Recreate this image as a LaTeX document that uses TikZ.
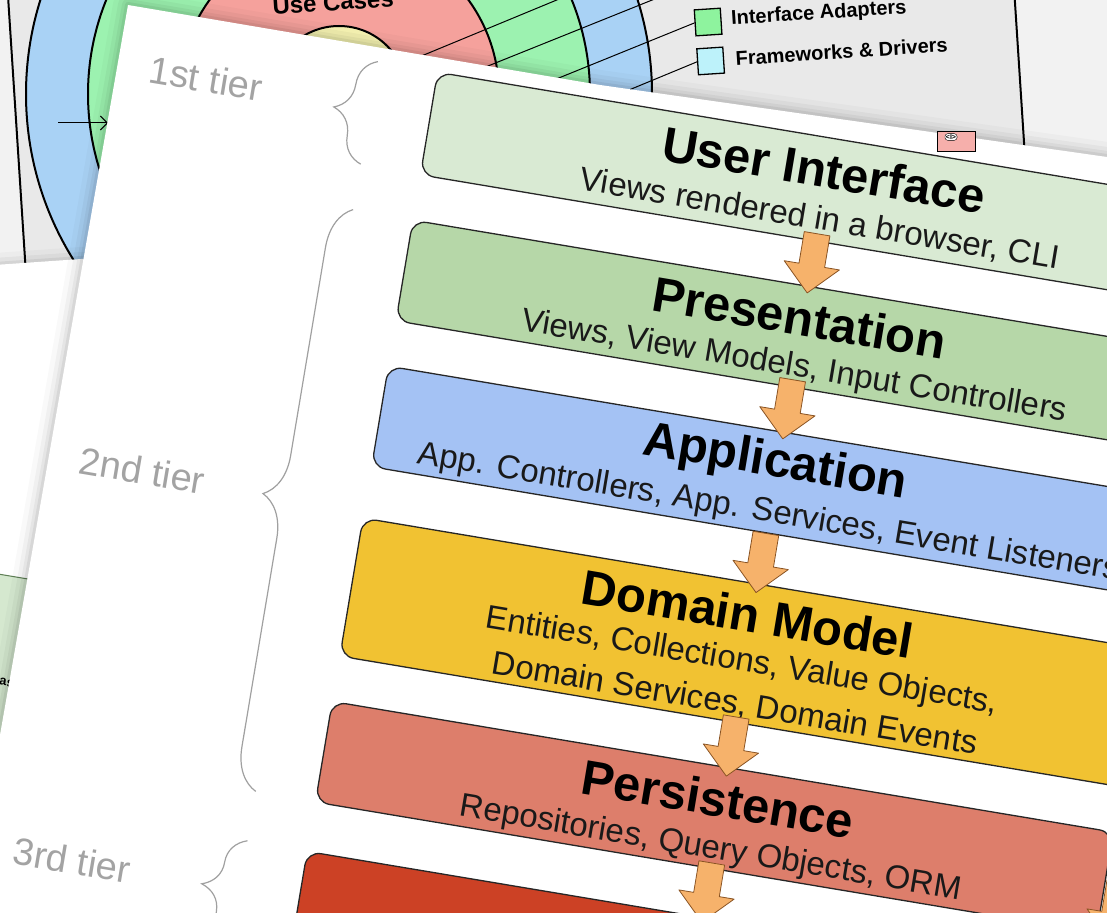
\documentclass[tikz,border=0pt]{standalone}
\usepackage{fontspec}
\setmainfont{Liberation Sans}
\usetikzlibrary{decorations.pathreplacing,arrows.meta,calc}

\definecolor{backgray}{HTML}{F2F2F2}
\definecolor{framegray}{HTML}{E9E9E9}
\definecolor{ringblue}{HTML}{A9D2F5}
\definecolor{ringgreen}{HTML}{9CF2B0}
\definecolor{ringred}{HTML}{F5A19C}
\definecolor{ringyellow}{HTML}{F8F5B4}
\definecolor{sqgreen}{HTML}{8EF39E}
\definecolor{sqcyan}{HTML}{BDF2FA}
\definecolor{uicol}{HTML}{D9EAD3}
\definecolor{prescol}{HTML}{B6D7A8}
\definecolor{appcol}{HTML}{A4C2F4}
\definecolor{domcol}{HTML}{F1C232}
\definecolor{perscol}{HTML}{DD7E6B}
\definecolor{infcol}{HTML}{CC4125}
\definecolor{arrfill}{HTML}{F6B26B}
\definecolor{arrline}{HTML}{8A5424}
\definecolor{tiergray}{HTML}{A3A3A3}
\definecolor{bracegray}{HTML}{A0A0A0}
\definecolor{oldgreen}{HTML}{D5E8CF}
\definecolor{oldgreenline}{HTML}{5E7F55}

\newcommand\layerarrow[1]{%
  \draw[blockarr] (#1) ++(-13,0) -- ++(0,32) -- ++(-15,0) -- ++(28,28)
    -- ++(28,-28) -- ++(-15,0) -- ++(0,-32) -- cycle;}

\begin{document}
\begin{tikzpicture}[x=1pt,y=-1pt,
  layer/.style={draw=black!85, line width=1.3pt, rounded corners=14pt,
    minimum width=792pt, anchor=north west, inner sep=0pt},
  ttl/.style={font=\fontsize{49}{55}\selectfont\bfseries, inner sep=0pt},
  sub/.style={font=\fontsize{33}{44}\selectfont, text=black!90, inner sep=0pt, align=center},
  tier/.style={font=\fontsize{38}{44}\selectfont, text=tiergray, inner sep=0pt},
  tierbrace/.style={decorate, decoration={brace, amplitude=#1}, draw=bracegray, line width=1.2pt},
  blockarr/.style={fill=arrfill, draw=arrline, line width=0.8pt, line join=round},
  ring/.style={draw=black, line width=2pt},
  legendsq/.style={draw=black, line width=1.3pt, minimum size=26pt, inner sep=0pt},
  legendtxt/.style={font=\fontsize{20}{24}\selectfont\bfseries, anchor=west, inner sep=0pt},
  pointer/.style={draw=black, line width=1pt},
  sheetshadow/.style={draw=black, line join=round},
]
\useasboundingbox (0,0) rectangle (1107,912);
\clip (0,0) rectangle (1107,912);

% ---------- back page: the concentric rings diagram ----------
\fill[backgray] (-10,-10) rectangle (1120,930);
\begin{scope}[shift={(339,94)}, rotate=3.7]
  \filldraw[fill=framegray, draw=black, line width=2pt] (-324,-400) rectangle (680.5,520);
\end{scope}
\draw[ring, fill=ringblue]   (339,94) circle[radius=313pt];
\draw[ring, fill=ringgreen]  (339,94) circle[radius=251pt];
\draw[ring, fill=ringred]    (339,94) circle[radius=160pt];
\draw[ring, fill=ringyellow] (339,94) circle[radius=68pt];
\draw[pointer, -{Straight Barb[length=7pt]}] (58,123) -- (108,123);

\begin{scope}[shift={(339,94)}, rotate=3.7, transform shape]
  \node[font=\fontsize{24}{28}\selectfont\bfseries, inner sep=0pt] (uc) at (0,-92) {Use Cases};
  \node[legendsq, fill=ringyellow] (sqent) at (373,-126) {};
  \node[legendsq, fill=ringred]    (sqapp) at (373,-87) {};
  \node[legendsq, fill=sqgreen]    (sqia)  at (373,-48) {};
  \node[legendsq, fill=sqcyan]     (sqfd)  at (373,-9) {};
  \node[legendtxt] (txtia) at (396,-49) {Interface Adapters};
  \node[legendtxt] (txtfd) at (398,-10) {Frameworks \& Drivers};
  \coordinate (endent) at (30,-14);
  \coordinate (endapp) at (110,-5);
  \coordinate (endia)  at (200,5);
  \coordinate (endfd)  at (280,18);
  \draw[pointer] (sqent.west) -- (endent);
  \draw[pointer] (sqapp.west) -- (endapp);
  \draw[pointer] (sqia.west)  -- (endia);
  \draw[pointer] (sqfd.west)  -- (endfd);
\end{scope}

% ---------- middle page on the left ----------
\foreach \w/\o in {24/0.025,14/0.04,6/0.06}{
  \draw[sheetshadow, line width=\w pt, opacity=\o] (-20,266) -- (240,248) -- (240,1000) -- (-20,1000) -- cycle;
}
\fill[white] (-20,266) -- (240,248) -- (240,1000) -- (-20,1000) -- cycle;
\filldraw[fill=oldgreen, draw=oldgreenline, line width=1pt]
  (-20,571) -- (160,601) -- (160,1000) -- (-20,1000) -- cycle;
\node[font=\fontsize{13}{15}\selectfont\bfseries, anchor=east, rotate=-9.5, inner sep=0pt] (oldtxt) at (14,684) {as};

% ---------- front page: the layer stack ----------
\foreach \w/\o in {30/0.025,20/0.035,12/0.045,6/0.06}{
  \draw[sheetshadow, line width=\w pt, opacity=\o]
    (128,5) -- (600,85) -- (1107,157) -- (1400,200) -- (1400,1100) -- (-64,1100) -- cycle;
}
\fill[white] (128,5) -- (600,85) -- (1107,157) -- (1400,200) -- (1400,1100) -- (-64,1100) -- cycle;

% small interface marker of the back page
\filldraw[fill=ringred!85, draw=black, line width=1pt] (937,132) rectangle (975,152);
\node[draw=black, fill=white, rounded corners=3pt, inner sep=1pt,
      font=\fontsize{7}{7}\selectfont\bfseries] (imark) at (951,137) {<I>};

\begin{scope}[shift={(440,72)}, rotate=-9.5, transform shape]
  % layers
  \node[layer, fill=uicol,   minimum height=104pt] (ui) at (-3,0)   {};
  \node[layer, fill=prescol, minimum height=102pt] (pr) at (-3,150) {};
  \node[layer, fill=appcol,  minimum height=102pt] (ap) at (-3,298) {};
  \node[layer, fill=domcol,  minimum height=140pt] (dm) at (-3,452) {};
  \node[layer, fill=perscol, minimum height=102pt] (ps) at (-3,638) {};
  \node[layer, fill=infcol,  minimum height=110pt] (inf) at (-3,790) {};

  % titles and contents
  \node[ttl] (uit) at (395,33)  {User Interface};
  \node[sub] (uis) at (399,83)  {Views rendered in a browser, CLI};
  \node[ttl] (prt) at (395,183) {Presentation};
  \node[sub] (prs) at (398,233) {Views, View Models, Input Controllers};
  \node[ttl] (apt) at (395,331) {Application};
  \node[sub] (aps) at (397,381) {App. Controllers, App. Services, Event Listeners};
  \node[ttl] (dmt) at (393,484) {Domain Model};
  \node[sub] (dms) at (395,553) {Entities, Collections, Value Objects,\\Domain Services, Domain Events};
  \node[ttl] (pst) at (394,671) {Persistence};
  \node[sub] (pss) at (395,722) {Repositories, Query Objects, ORM};

  % flow arrows between layers
  \path (ui.south) ++(5,-8) coordinate (a1);
  \path (pr.south) ++(5,-8) coordinate (a2);
  \path (ap.south) ++(4,0)  coordinate (a3);
  \path (dm.south) ++(5,-6) coordinate (a4);
  \path (ps.south) ++(5,-6) coordinate (a5);
  \path (ps.east)  ++(14,-3) coordinate (a6);
  \layerarrow{a1}
  \layerarrow{a2}
  \layerarrow{a3}
  \layerarrow{a4}
  \layerarrow{a5}
  \layerarrow{a6}

  % tiers
  \node[tier] (t1) at (-230,45)  {1st tier};
  \node[tier] (t2) at (-228,442) {2nd tier};
  \node[tier] (t3) at (-233,838) {3rd tier};
  \draw[tierbrace=36pt] (-63,104) -- (-63,0);
  \draw[tierbrace=42pt] (-63,740) -- (-63,150);
  \draw[tierbrace=38pt] (-63,890) -- (-63,790);
\end{scope}
\end{tikzpicture}
\end{document}
